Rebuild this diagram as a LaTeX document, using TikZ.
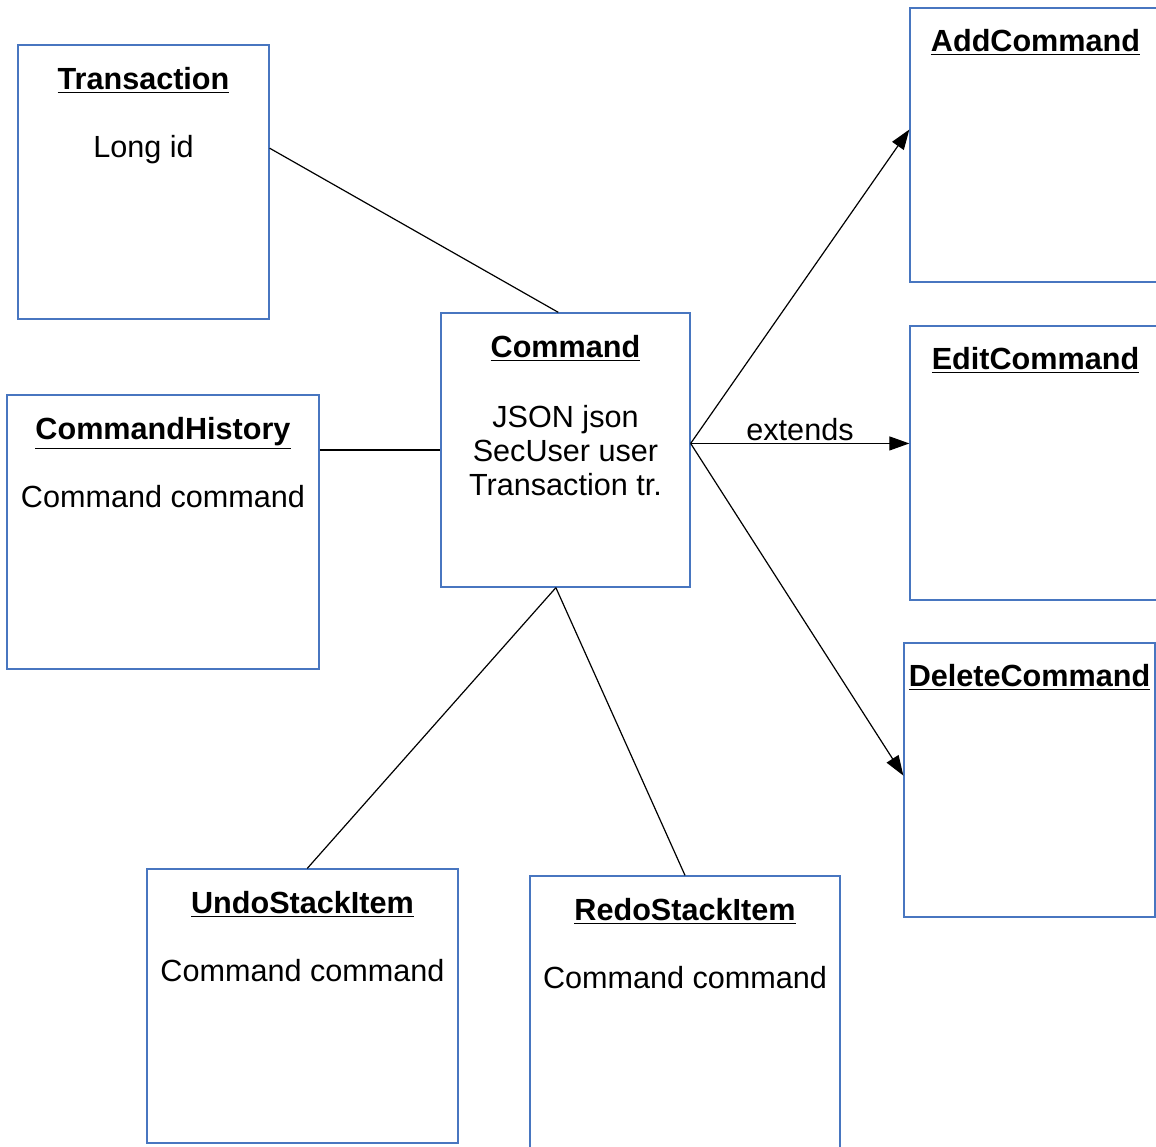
\documentclass[tikz,border=0pt]{standalone}
\usepackage{fontspec}
\setmainfont{Liberation Sans}
\usetikzlibrary{arrows.meta}
\definecolor{boxblue}{RGB}{72,118,192}

\begin{document}
\begin{tikzpicture}[x=0.5pt,y=0.5pt,yscale=-1,
    classbox/.style={draw=boxblue, line width=0.65pt, minimum height=137pt, inner sep=0pt},
    classname/.style={anchor=base, inner sep=0pt, font=\fontsize{15.3}{17}\selectfont\bfseries},
    members/.style={anchor=base, inner sep=0pt, align=center, font=\fontsize{15.3}{17}\selectfont},
    link/.style={line width=0.6pt},
    extends/.style={link, -{Triangle[length=10pt,width=7pt]}}]
        \useasboundingbox (0,0) rectangle (1156,1146);

        %Shape: Rectangle [Transaction]
        \node [classbox, minimum width=125.5pt] (trans) at (143.5,182) {};
        %Shape: Rectangle [CommandHistory]
        \node [classbox, minimum width=156pt] (hist) at (163,532) {};
        %Shape: Rectangle [Command]
        \node [classbox, minimum width=124.5pt] (cmd) at (565.5,450) {};
        %Shape: Rectangle [AddCommand]
        \node [classbox, minimum width=125.5pt] (add) at (1035.5,145) {};
        %Shape: Rectangle [EditCommand]
        \node [classbox, minimum width=125.5pt] (edit) at (1035.5,463) {};
        %Shape: Rectangle [DeleteCommand]
        \node [classbox, minimum width=125.5pt] (del) at (1029.5,780) {};
        %Shape: Rectangle [UndoStackItem]
        \node [classbox, minimum width=155.5pt] (undo) at (302.5,1006) {};
        %Shape: Rectangle [RedoStackItem]
        \node [classbox, minimum width=155pt] (redo) at (685,1013) {};

        % Text Node
        \node [classname] (transT) at ([yshift=22.5pt]trans.north) {\underline{Transaction}};
        \node [members] (transM) at ([yshift=56.5pt]trans.north) {Long id};
        % Text Node
        \node [classname] (histT) at ([yshift=22.5pt]hist.north) {\underline{CommandHistory}};
        \node [members] (histM) at ([yshift=56.5pt]hist.north) {Command command};
        % Text Node
        \node [classname] (cmdT) at ([yshift=22.5pt]cmd.north) {\underline{Command}};
        \node [members] (cmdM) at ([yshift=91.5pt]cmd.north) {JSON json\\SecUser user\\Transaction tr.};
        % Text Node
        \node [classname] (addT) at ([yshift=22pt]add.north) {\underline{AddCommand}};
        \node [classname] (editT) at ([yshift=22pt]edit.north) {\underline{EditCommand}};
        \node [classname] (delT) at ([yshift=22pt]del.north) {\underline{DeleteCommand}};
        % Text Node
        \node [classname] (undoT) at ([yshift=22.5pt]undo.north) {\underline{UndoStackItem}};
        \node [members] (undoM) at ([yshift=56.5pt]undo.north) {Command command};
        \node [classname] (redoT) at ([yshift=22.5pt]redo.north) {\underline{RedoStackItem}};
        \node [members] (redoM) at ([yshift=56.5pt]redo.north) {Command command};

        %Straight Lines
        \draw [link] (trans.15) -- (cmd.93.5);
        \draw [link] (hist.east |- cmd.west) -- (cmd.west);
        \draw [link] (cmd.266.5) -- (undo.88.5);
        \draw [link] (cmd.266.5) -- (redo.north);

        %Arrows
        \coordinate (hub) at (cmd.3);
        \draw [extends] (hub) -- (add.173);
        \draw [extends] (hub) -- (hub -| edit.west) node [midway, above, inner sep=1pt, font=\fontsize{15.3}{17}\selectfont] (extL) {extends};
        \draw [extends] (hub) -- (del.178);

\end{tikzpicture}
\end{document}
